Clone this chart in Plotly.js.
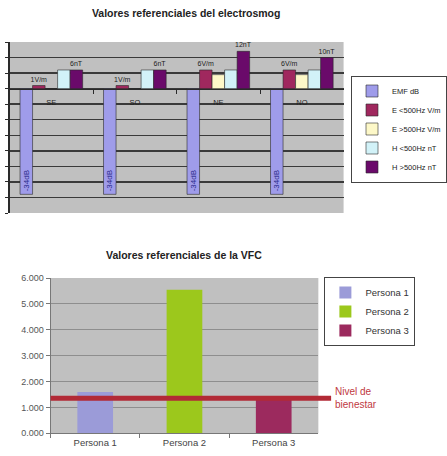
<!DOCTYPE html>
<html>
<head>
<meta charset="utf-8">
<script src="https://cdn.plot.ly/plotly-3.0.1.min.js"></script>
<style>
  html, body { margin: 0; padding: 0; background: #fff; }
  #chart { width: 447px; height: 456px; }
</style>
</head>
<body>
<div id="chart"></div>
<script>
// Electrosmog reference values per orientation
const regiones = ['SE', 'SO', 'NE', 'NO'];
const emfDb = [-34, -34, -34, -34];
const eBajaVm = [1, 1, 6, 6];        // E <500Hz V/m
const eAltaVm = [0, 0, 4.5, 4.5];    // E >500Hz V/m
const hBajaNt = [6, 6, 6, 6];        // H <500Hz nT
const hAltaNt = [6, 6, 12, 10];      // H >500Hz nT

// Heart rate variability (VFC) per person
const personas = ['Persona 1', 'Persona 2', 'Persona 3'];
const vfc = [1.6, 5.55, 1.3];
const nivelBienestar = 1.35;

const W = 447, H = 456;
const px = v => v / W;
const py = v => (H - v) / H;

// top chart area (pixels)
const topY = [py(213), py(42)];
const topRange = [-40, 15];
const zeroPos = topY[0] + (0 - topRange[0]) / (topRange[1] - topRange[0]) * (topY[1] - topY[0]);

const outline = { color: '#2a2a2a', width: 0.6 };
const labelFont = { family: 'Arial, Liberation Sans, sans-serif', size: 7, color: '#222' };

function topBar(name, values, color, extra) {
  return Object.assign({
    type: 'bar', name: name, x: regiones, y: values,
    xaxis: 'x', yaxis: 'y', legend: 'legend',
    marker: { color: color, line: outline },
    textposition: 'none', constraintext: 'none', cliponaxis: false,
    hoverinfo: 'name+y'
  }, extra || {});
}

const traces = [
  topBar('EMF dB', emfDb, '#9f9cea', {
    text: emfDb.map(v => v + 'dB'), textposition: 'inside',
    insidetextanchor: 'end', textangle: -90,
    insidetextfont: { family: 'Arial, Liberation Sans, sans-serif', size: 8, color: '#2b2b8c' }
  }),
  topBar('E <500Hz V/m', eBajaVm, '#a0285e', {
    text: eBajaVm.map(v => v + 'V/m'), textposition: 'outside', outsidetextfont: labelFont
  }),
  topBar('E >500Hz V/m', eAltaVm, '#fdf8c8'),
  topBar('H <500Hz nT', hBajaNt, '#d2f2f8'),
  topBar('H >500Hz nT', hAltaNt, '#6a0a6a', {
    text: hAltaNt.map(v => v + 'nT'), textposition: 'outside', outsidetextfont: labelFont
  })
];

const personaColors = ['#9b9bd8', '#9cc81c', '#9c2a5e'];
personas.forEach((p, i) => {
  traces.push({
    type: 'bar', name: p, x: [p], y: [vfc[i]],
    xaxis: 'x2', yaxis: 'y2', legend: 'legend2',
    width: 0.4, offset: -0.2,
    marker: { color: personaColors[i] },
    hoverinfo: 'name+y'
  });
});

const baseFont = { family: 'Arial, Liberation Sans, sans-serif', size: 9, color: '#333' };

const layout = {
  width: W, height: H,
  margin: { l: 0, r: 0, t: 0, b: 0 },
  paper_bgcolor: '#ffffff',
  plot_bgcolor: '#c0c0c0',
  font: baseFont,
  barmode: 'group', bargap: 0.25, bargroupgap: 0,
  title: {
    text: '<b>Valores referenciales del electrosmog</b>',
    x: px(194), xanchor: 'center', y: py(13), yanchor: 'middle',
    xref: 'paper', yref: 'paper',
    font: { family: 'Arial, Liberation Sans, sans-serif', size: 10.5, color: '#222' }
  },
  xaxis: {
    domain: [px(10), px(358)], anchor: 'free', position: zeroPos,
    type: 'category', showgrid: false, showline: true, linecolor: '#2a2a2a', linewidth: 1.5,
    ticks: 'outside', tickson: 'boundaries', ticklen: 4, tickcolor: '#2a2a2a',
    ticklabelstandoff: 6,
    tickfont: { family: 'Arial, Liberation Sans, sans-serif', size: 7.5, color: '#222' },
    automargin: false, fixedrange: true
  },
  yaxis: {
    domain: topY, anchor: 'x', range: topRange, dtick: 5, tick0: 0,
    showticklabels: false, ticks: 'outside', ticklen: 3, tickcolor: '#2a2a2a',
    showline: true, linecolor: '#2a2a2a', linewidth: 1.2,
    showgrid: true, gridcolor: '#3a3a3a', gridwidth: 1.5, zeroline: false,
    automargin: false, fixedrange: true
  },
  xaxis2: {
    domain: [px(52.7), px(331.7)], anchor: 'y2',
    type: 'category', categoryorder: 'array', categoryarray: personas,
    range: [-0.5, 2.5], showgrid: false,
    showline: true, linecolor: '#777', linewidth: 1,
    ticks: 'outside', tickson: 'boundaries', ticklen: 4, tickcolor: '#777',
    tickfont: { family: 'Arial, Liberation Sans, sans-serif', size: 9.5, color: '#444' },
    automargin: false, fixedrange: true
  },
  yaxis2: {
    domain: [py(433.3), py(278)], anchor: 'x2', range: [0, 6], dtick: 1,
    tickformat: '.3f',
    showline: true, linecolor: '#777', ticks: 'outside', ticklen: 4, tickcolor: '#777',
    showgrid: true, gridcolor: '#8e8e8e', gridwidth: 1, zeroline: false,
    tickfont: { family: 'Arial, Liberation Sans, sans-serif', size: 9, color: '#555' },
    automargin: false, fixedrange: true
  },
  legend: {
    x: px(366), xanchor: 'left', y: py(129), yanchor: 'middle',
    bgcolor: '#ffffff', bordercolor: '#444', borderwidth: 1,
    font: { family: 'Arial, Liberation Sans, sans-serif', size: 7.5, color: '#222' },
    traceorder: 'normal', tracegroupgap: 0
  },
  legend2: {
    x: px(338), xanchor: 'left', y: py(277), yanchor: 'top',
    bgcolor: '#ffffff', bordercolor: '#444', borderwidth: 1,
    font: { family: 'Arial, Liberation Sans, sans-serif', size: 9.5, color: '#333' },
    traceorder: 'normal'
  },
  shapes: [{
    type: 'line', xref: 'paper', yref: 'y2',
    x0: px(52.7), x1: px(345), y0: nivelBienestar, y1: nivelBienestar,
    line: { color: '#b22a36', width: 5 }
  }],
  annotations: [
    {
      text: '<b>Valores referenciales de la VFC</b>',
      xref: 'paper', yref: 'paper', x: px(192), y: py(255),
      xanchor: 'center', yanchor: 'middle', showarrow: false,
      font: { family: 'Arial, Liberation Sans, sans-serif', size: 10.5, color: '#222' }
    },
    {
      text: 'Nivel de<br>bienestar',
      xref: 'paper', yref: 'y2', x: px(347), y: nivelBienestar,
      xanchor: 'left', yanchor: 'middle', align: 'left', showarrow: false,
      font: { family: 'Arial, Liberation Sans, sans-serif', size: 10, color: '#c0393f' }
    }
  ]
};

Plotly.newPlot('chart', traces, layout, { displayModeBar: false, staticPlot: true });
</script>
</body>
</html>
